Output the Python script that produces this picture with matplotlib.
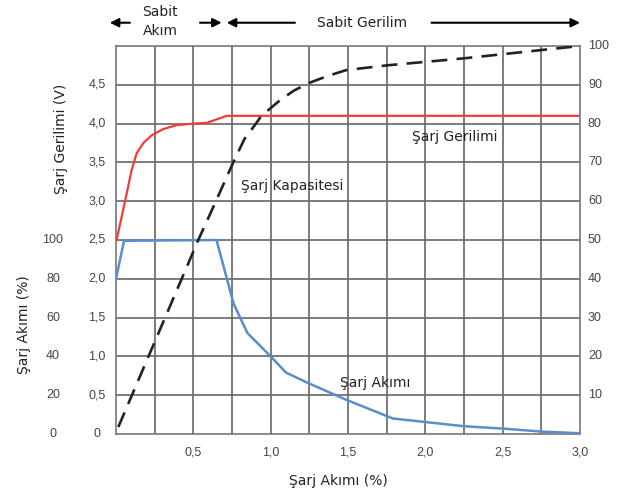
import matplotlib
matplotlib.use("Agg")
import matplotlib.pyplot as plt
from matplotlib.transforms import blended_transform_factory

# Data
volt_x = [0.004, 0.06, 0.101, 0.134, 0.177, 0.231, 0.306, 0.392, 0.50, 0.586, 0.716, 3.0]
volt_y = [2.5, 3.015, 3.40, 3.62, 3.75, 3.85, 3.93, 3.98, 4.0, 4.01, 4.10, 4.10]

curr_x = [0.0, 0.052, 0.65, 0.76, 0.85, 1.0, 1.10, 1.25, 1.49, 1.79, 2.25, 2.50, 2.76, 3.0]
curr_pct = [80, 99.6, 100, 67.2, 52, 40, 31.6, 26, 17.6, 8, 4, 2.8, 1.2, 0.4]

cap_x = [0.015, 0.532, 0.646, 0.758, 0.83, 0.905, 0.94, 1.0, 1.06, 1.15, 1.25, 1.37,
         1.49, 1.75, 2.245, 2.76, 3.0]
cap_pct = [1.8, 50, 60, 70, 76, 80, 82, 84, 86, 88.5, 90.5, 92.3,
           93.8, 95, 96.8, 99, 100]

x_ticks = [0.5, 1.0, 1.5, 2.0, 2.5, 3.0]
x_labels = ["0,5", "1,0", "1,5", "2,0", "2,5", "3,0"]
v_ticks = [0, 0.5, 1.0, 1.5, 2.0, 2.5, 3.0, 3.5, 4.0, 4.5]
v_labels = ["0", "0,5", "1,0", "1,5", "2,0", "2,5", "3,0", "3,5", "4,0", "4,5"]
c_labels = ["0", "20", "40", "60", "80", "100"]
r_ticks = [10, 20, 30, 40, 50, 60, 70, 80, 90, 100]

fig = plt.figure(figsize=(6.19, 4.95), dpi=100)
ax = fig.add_axes([116/619, 1-434/495, 464/619, 388/495])
ax.set_xlim(0, 3.0)
ax.set_ylim(0, 5.0)

grid_c = "#666666"
for gx in [i*0.25 for i in range(1, 12)]:
    ax.axvline(gx, color=grid_c, lw=1.2, zorder=1)
for gy in [i*0.5 for i in range(1, 10)]:
    ax.axhline(gy, color=grid_c, lw=1.2, zorder=1)
for s in ax.spines.values():
    s.set_color("#777777")
    s.set_linewidth(1.2)

ax.plot(volt_x, volt_y, color="#f03c3c", lw=1.6, zorder=3, solid_joinstyle="round")
ax.plot(curr_x, [p/40.0 for p in curr_pct], color="#5b8ccc", lw=1.8, zorder=3)
ax.plot(cap_x, [p/20.0 for p in cap_pct], color="#222222", lw=1.9,
        dashes=(6, 3.5), zorder=3)

tick_font = dict(family="Liberation Sans", size=9, color="#444444")
ax.set_xticks(x_ticks)
ax.set_xticklabels(x_labels, **tick_font)
ax.set_yticks([])
ax.tick_params(axis="x", length=0, pad=9)

trans = blended_transform_factory(fig.transFigure, ax.transData)
for v, lab in zip(v_ticks, v_labels):
    fig.text(97/619, v, lab, transform=trans, ha="center", va="center", **tick_font)
for i, lab in enumerate(c_labels):
    fig.text(53/619, i*0.5, lab, transform=trans, ha="center", va="center", **tick_font)
for r in r_ticks:
    fig.text(588/619, r/20.0, str(r), transform=trans, ha="left", va="center", **tick_font)

# Axis labels
lab_font = dict(family="DejaVu Sans", size=10, color="#222222")
fig.text(61/619, 1-139/495, "Şarj Gerilimi (V)", rotation=90, ha="center", va="center", **lab_font)
fig.text(24/619, 1-325/495, "Şarj Akımı (%)", rotation=90, ha="center", va="center", **lab_font)
fig.text(338/619, 1-481/495, "Şarj Akımı (%)", ha="center", va="center", **lab_font)

# Curve annotations
ax.text(2.19, 3.83, "Şarj Gerilimi", ha="center", va="center", **lab_font)
ax.text(0.805, 3.2, "Şarj Kapasitesi", ha="left", va="center", **lab_font)
ax.text(1.675, 0.66, "Şarj Akımı", ha="center", va="center", **lab_font)

# Top annotations
ya = 5.30
ap = dict(arrowstyle="-|>", color="black", lw=1.5, mutation_scale=13, shrinkA=0, shrinkB=0)
ax.annotate("", xy=(-0.04, ya), xytext=(0.09, ya), arrowprops=ap, annotation_clip=False)
ax.annotate("", xy=(0.683, ya), xytext=(0.543, ya), arrowprops=ap, annotation_clip=False)
ax.annotate("", xy=(0.716, ya), xytext=(1.157, ya), arrowprops=ap, annotation_clip=False)
ax.annotate("", xy=(3.0, ya), xytext=(2.04, ya), arrowprops=ap, annotation_clip=False)
ax.text(0.285, 5.44, "Sabit", ha="center", va="center", clip_on=False, **lab_font)
ax.text(0.285, 5.19, "Akım", ha="center", va="center", clip_on=False, **lab_font)
ax.text(1.59, 5.30, "Sabit Gerilim", ha="center", va="center", clip_on=False, **lab_font)

fig.savefig("out.png", dpi=100)
